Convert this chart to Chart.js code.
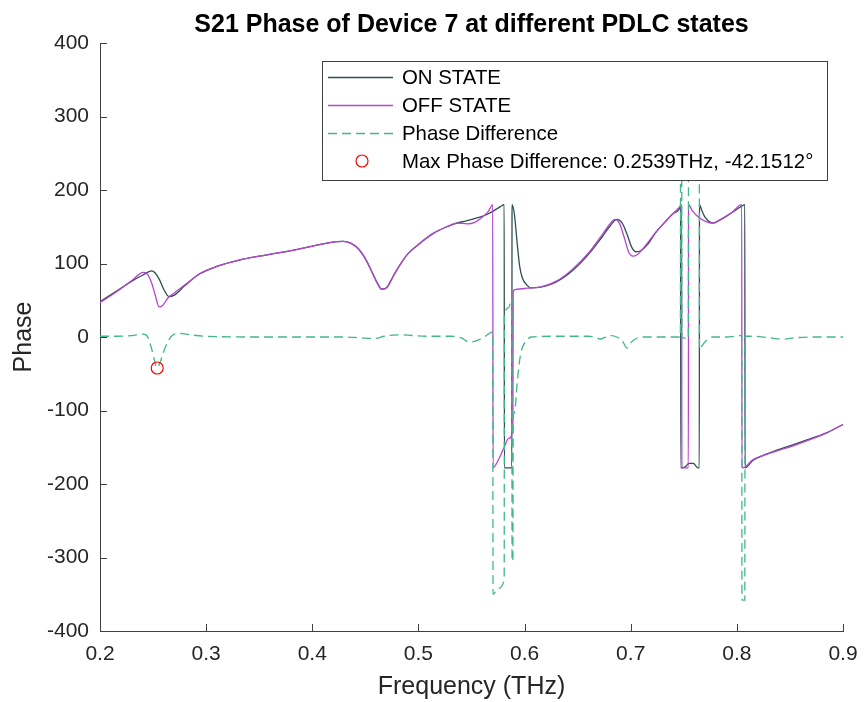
<!DOCTYPE html>
<html>
<head>
<meta charset="utf-8">
<script src="https://cdn.jsdelivr.net/npm/chart.js@4.4.0/dist/chart.umd.min.js"></script>
<style>
  html, body { margin: 0; padding: 0; background: #fff; }
  #wrap { width: 864px; height: 702px; }
</style>
</head>
<body>
<div id="wrap"><canvas id="phaseChart" width="864" height="702"></canvas></div>
<script>
// S21 phase, ON state
const onFreq = [
  0.200, 0.215, 0.230, 0.240, 0.2487, 0.252, 0.256, 0.260, 0.265, 0.270, 0.280, 0.294,
  0.310, 0.332, 0.350, 0.3665, 0.385, 0.398, 0.415, 0.4293, 0.437, 0.444, 0.451, 0.457,
  0.461, 0.4654, 0.470, 0.476, 0.4826, 0.490, 0.500, 0.514, 0.525, 0.536, 0.545, 0.555,
  0.565, 0.5769, 0.5808, 0.5810, 0.5880, 0.5882, 0.5905, 0.593, 0.5955, 0.598, 0.602, 0.606,
  0.615, 0.630, 0.645, 0.660, 0.672, 0.680, 0.687, 0.692, 0.697, 0.701, 0.705, 0.709,
  0.716, 0.724, 0.732, 0.740, 0.7468, 0.7470, 0.7472, 0.751, 0.755, 0.759, 0.7632, 0.7646,
  0.7648, 0.767, 0.770, 0.774, 0.7776, 0.785, 0.795, 0.8046, 0.8075, 0.8077, 0.815, 0.825,
  0.834, 0.850, 0.866, 0.885, 0.900
];
const onPhase = [
  48, 62, 76, 84, 90, 87, 78, 65, 55, 57, 70, 86,
  96, 105, 110, 114, 119, 123, 128, 130, 127, 119, 104, 86,
  74, 65, 67, 82, 98, 113, 126, 141, 149, 155, 158, 162,
  167, 177, 180, -178, -178, 180, 166, 128, 95, 80, 71, 67,
  68, 75, 90, 112, 134, 150, 160, 155, 138, 122, 116, 117,
  126, 143, 156, 168, 178, 180, -178, -177, -172, -172, -178, -178,
  180, 172, 163, 157, 155, 160, 169, 178, 180, -178, -168, -161,
  -156, -148, -140, -130, -119
];

// S21 phase, OFF state
const offFreq = [
  0.200, 0.215, 0.230, 0.2408, 0.245, 0.249, 0.252, 0.2556, 0.259, 0.264, 0.270, 0.280,
  0.294, 0.310, 0.332, 0.350, 0.3665, 0.385, 0.398, 0.415, 0.4293, 0.437, 0.444, 0.451,
  0.457, 0.461, 0.4654, 0.470, 0.476, 0.4826, 0.490, 0.500, 0.514, 0.525, 0.530, 0.536,
  0.546, 0.553, 0.560, 0.566, 0.5700, 0.5703, 0.575, 0.5808, 0.585, 0.5890, 0.5893, 0.593,
  0.600, 0.606, 0.615, 0.630, 0.645, 0.660, 0.672, 0.680, 0.685, 0.689, 0.694, 0.698,
  0.702, 0.706, 0.712, 0.724, 0.732, 0.740, 0.7468, 0.7480, 0.7482, 0.7543, 0.7545, 0.758,
  0.764, 0.771, 0.777, 0.785, 0.795, 0.8046, 0.8048, 0.8077, 0.815, 0.825, 0.840, 0.855,
  0.870, 0.885, 0.900
];
const offPhase = [
  47, 61, 77, 88, 85, 72, 57, 41, 43, 53, 60, 71,
  86, 96, 105, 110, 114, 119, 123, 128, 130, 127, 119, 104,
  86, 74, 65, 67, 82, 98, 113, 126, 141, 149, 152, 155,
  154, 156, 163, 171, 180, -178, -168, -150, -138, -125, 63, 65,
  66, 67, 68, 76, 92, 114, 137, 153, 160, 156, 135, 116,
  110, 112, 121, 143, 156, 168, 178, 180, -178, -178, 180, 172,
  163, 157, 155, 160, 169, 180, -178, -177, -167, -161, -154, -147,
  -139, -130, -119
];

// Phase difference (OFF - ON)
const diffFreq = [
  0.200, 0.215, 0.230, 0.2408, 0.245, 0.249, 0.2539, 0.2565, 0.260, 0.264, 0.268, 0.275,
  0.285, 0.300, 0.350, 0.400, 0.430, 0.445, 0.458, 0.468, 0.480, 0.510, 0.530, 0.540,
  0.548, 0.555, 0.562, 0.5700, 0.5703, 0.5705, 0.575, 0.5808, 0.5810, 0.585, 0.5880, 0.5882,
  0.5890, 0.5893, 0.5905, 0.593, 0.5955, 0.598, 0.602, 0.606, 0.630, 0.660, 0.668, 0.671,
  0.675, 0.682, 0.687, 0.692, 0.6965, 0.700, 0.704, 0.710, 0.740, 0.7468, 0.7470, 0.7480,
  0.7482, 0.7543, 0.7545, 0.758, 0.7646, 0.7648, 0.767, 0.771, 0.777, 0.790, 0.8046, 0.8048,
  0.8075, 0.8077, 0.815, 0.830, 0.843, 0.855, 0.870, 0.900
];
const diffPhase = [
  1, 1, 2, 4, 0, -18, -42, -35, -20, -6, 2, 5,
  3, 1, 0, 0, 0, -1, -2, 1, 3, 1, 1, -1,
  -7, -5, 0, 7, -350, -350, -342, -330, 28, 40, 53, -305,
  -305, -110, -103, -63, -30, -14, -5, 0, 1, 1, -1, -3,
  -1, 2, 0, -5, -15, -8, -3, 0, 0, 0, 358, 358,
  0, -2, 358, 348, 340, -17, -12, -5, 0, 0, 2, -358,
  -358, 1, 1, -1, -3, -1, 0, 0
];

// marked maximum
const maxFreq = [0.2539];
const maxPhase = [-42.1512];

const xTicks = [0.2, 0.3, 0.4, 0.5, 0.6, 0.7, 0.8, 0.9];
const yTicks = [-400, -300, -200, -100, 0, 100, 200, 300, 400];

const chartTitle = "S21 Phase of Device 7 at different PDLC states";
const seriesLabels = [
  "ON STATE",
  "OFF STATE",
  "Phase Difference",
  "Max Phase Difference: 0.2539THz, -42.1512°",
];

const textColor = "#262626";
const axisColor = "#404040";
const onColor = "#2F4F4F";
const offColor = "#B444D2";
const diffColor = "#40B88A";
const fontFamily = '"Liberation Sans", Arial, Helvetica, sans-serif';

Chart.defaults.font.family = fontFamily;
Chart.defaults.color = textColor;

const toPoints = (xs, ys) => xs.map((x, i) => ({ x: x, y: ys[i] }));

// title centred over the axes, not the canvas
const axesTitle = {
  id: "axesTitle",
  afterDraw(chart) {
    const { ctx, chartArea } = chart;
    ctx.save();
    ctx.fillStyle = "#000";
    ctx.font = "bold 25px " + fontFamily;
    ctx.textAlign = "center";
    ctx.textBaseline = "middle";
    ctx.fillText(chartTitle, (chartArea.left + chartArea.right) / 2, 25);
    ctx.restore();
  },
};

// inward tick marks like matlab axes
const insideTicks = {
  id: "insideTicks",
  afterDatasetsDraw(chart) {
    const { ctx, chartArea, scales } = chart;
    ctx.save();
    ctx.strokeStyle = axisColor;
    ctx.lineWidth = 1;
    ctx.beginPath();
    xTicks.forEach((v) => {
      const px = Math.round(scales.x.getPixelForValue(v)) + 0.5;
      ctx.moveTo(px, chartArea.bottom);
      ctx.lineTo(px, chartArea.bottom - 7);
    });
    yTicks.forEach((v) => {
      const py = Math.round(scales.y.getPixelForValue(v)) + 0.5;
      ctx.moveTo(chartArea.left, py);
      ctx.lineTo(chartArea.left + 7, py);
    });
    ctx.stroke();
    ctx.restore();
  },
};

// boxed legend in the upper right of the axes
const boxLegend = {
  id: "boxLegend",
  afterDraw(chart) {
    const ctx = chart.ctx;
    const left = 322, top = 61, width = 505, height = 119;
    const rowStart = 77, rowGap = 28;
    ctx.save();
    ctx.fillStyle = "#fff";
    ctx.fillRect(left, top, width, height);
    ctx.strokeStyle = axisColor;
    ctx.lineWidth = 1;
    ctx.strokeRect(left + 0.5, top + 0.5, width, height);

    chart.data.datasets.forEach((ds, i) => {
      const y = rowStart + i * rowGap;
      ctx.strokeStyle = ds.borderColor;
      ctx.lineWidth = ds.borderWidth;
      if (ds.showLine === false) {
        ctx.beginPath();
        ctx.arc(left + 40, y, ds.pointRadius, 0, Math.PI * 2);
        ctx.stroke();
      } else {
        ctx.setLineDash(ds.borderDash || []);
        ctx.beginPath();
        ctx.moveTo(left + 6, y + 0.5);
        ctx.lineTo(left + 71, y + 0.5);
        ctx.stroke();
        ctx.setLineDash([]);
      }
      ctx.fillStyle = "#000";
      ctx.font = "20.4px " + fontFamily;
      ctx.textBaseline = "middle";
      ctx.textAlign = "left";
      ctx.fillText(ds.label, left + 80, y + 1);
    });
    ctx.restore();
  },
};

const ctx = document.getElementById("phaseChart").getContext("2d");

const chart = new Chart(ctx, {
  type: "line",
  data: {
    datasets: [
      {
        label: seriesLabels[0],
        data: toPoints(onFreq, onPhase),
        borderColor: onColor,
        borderWidth: 1.3,
        pointRadius: 0,
        cubicInterpolationMode: "monotone",
        order: 3,
      },
      {
        label: seriesLabels[1],
        data: toPoints(offFreq, offPhase),
        borderColor: offColor,
        borderWidth: 1.3,
        pointRadius: 0,
        cubicInterpolationMode: "monotone",
        order: 2,
      },
      {
        label: seriesLabels[2],
        data: toPoints(diffFreq, diffPhase),
        borderColor: diffColor,
        borderWidth: 1.3,
        borderDash: [9, 5],
        pointRadius: 0,
        cubicInterpolationMode: "monotone",
        order: 1,
      },
      {
        label: seriesLabels[3],
        data: toPoints(maxFreq, maxPhase),
        showLine: false,
        borderColor: "#FF0000",
        backgroundColor: "rgba(0,0,0,0)",
        borderWidth: 1.2,
        pointRadius: 6,
        pointStyle: "circle",
        order: 0,
      },
    ],
  },
  options: {
    responsive: false,
    animation: false,
    layout: {
      padding: { left: 0, right: 21, top: 43, bottom: 0 },
    },
    plugins: {
      legend: { display: false },
      tooltip: { enabled: false },
      title: { display: false },
    },
    scales: {
      x: {
        type: "linear",
        min: 0.2,
        max: 0.9,
        afterBuildTicks: (scale) => {
          scale.ticks = xTicks.map((v) => ({ value: v }));
        },
        afterFit: (scale) => {
          scale.height = 71;
          scale.paddingLeft = 0;
          scale.paddingRight = 0;
        },
        ticks: {
          autoSkip: false,
          maxRotation: 0,
          padding: 11,
          color: textColor,
          font: { size: 21 },
          callback: (v) => v.toFixed(1),
        },
        grid: { display: true, drawOnChartArea: false, drawTicks: false },
        border: { display: true, color: axisColor, width: 1 },
        title: {
          display: true,
          text: "Frequency (THz)",
          color: textColor,
          font: { size: 25 },
          padding: { top: 0, bottom: 0 },
        },
      },
      y: {
        type: "linear",
        min: -400,
        max: 400,
        afterBuildTicks: (scale) => {
          scale.ticks = yTicks.map((v) => ({ value: v }));
        },
        afterFit: (scale) => {
          scale.width = 100;
        },
        ticks: {
          autoSkip: false,
          padding: 11,
          color: textColor,
          font: { size: 21 },
        },
        grid: { display: true, drawOnChartArea: false, drawTicks: false },
        border: { display: true, color: axisColor, width: 1 },
        title: {
          display: true,
          text: "Phase",
          color: textColor,
          font: { size: 25 },
          padding: { top: 9, bottom: 0 },
        },
      },
    },
  },
  plugins: [insideTicks, boxLegend, axesTitle],
});
</script>
</body>
</html>
